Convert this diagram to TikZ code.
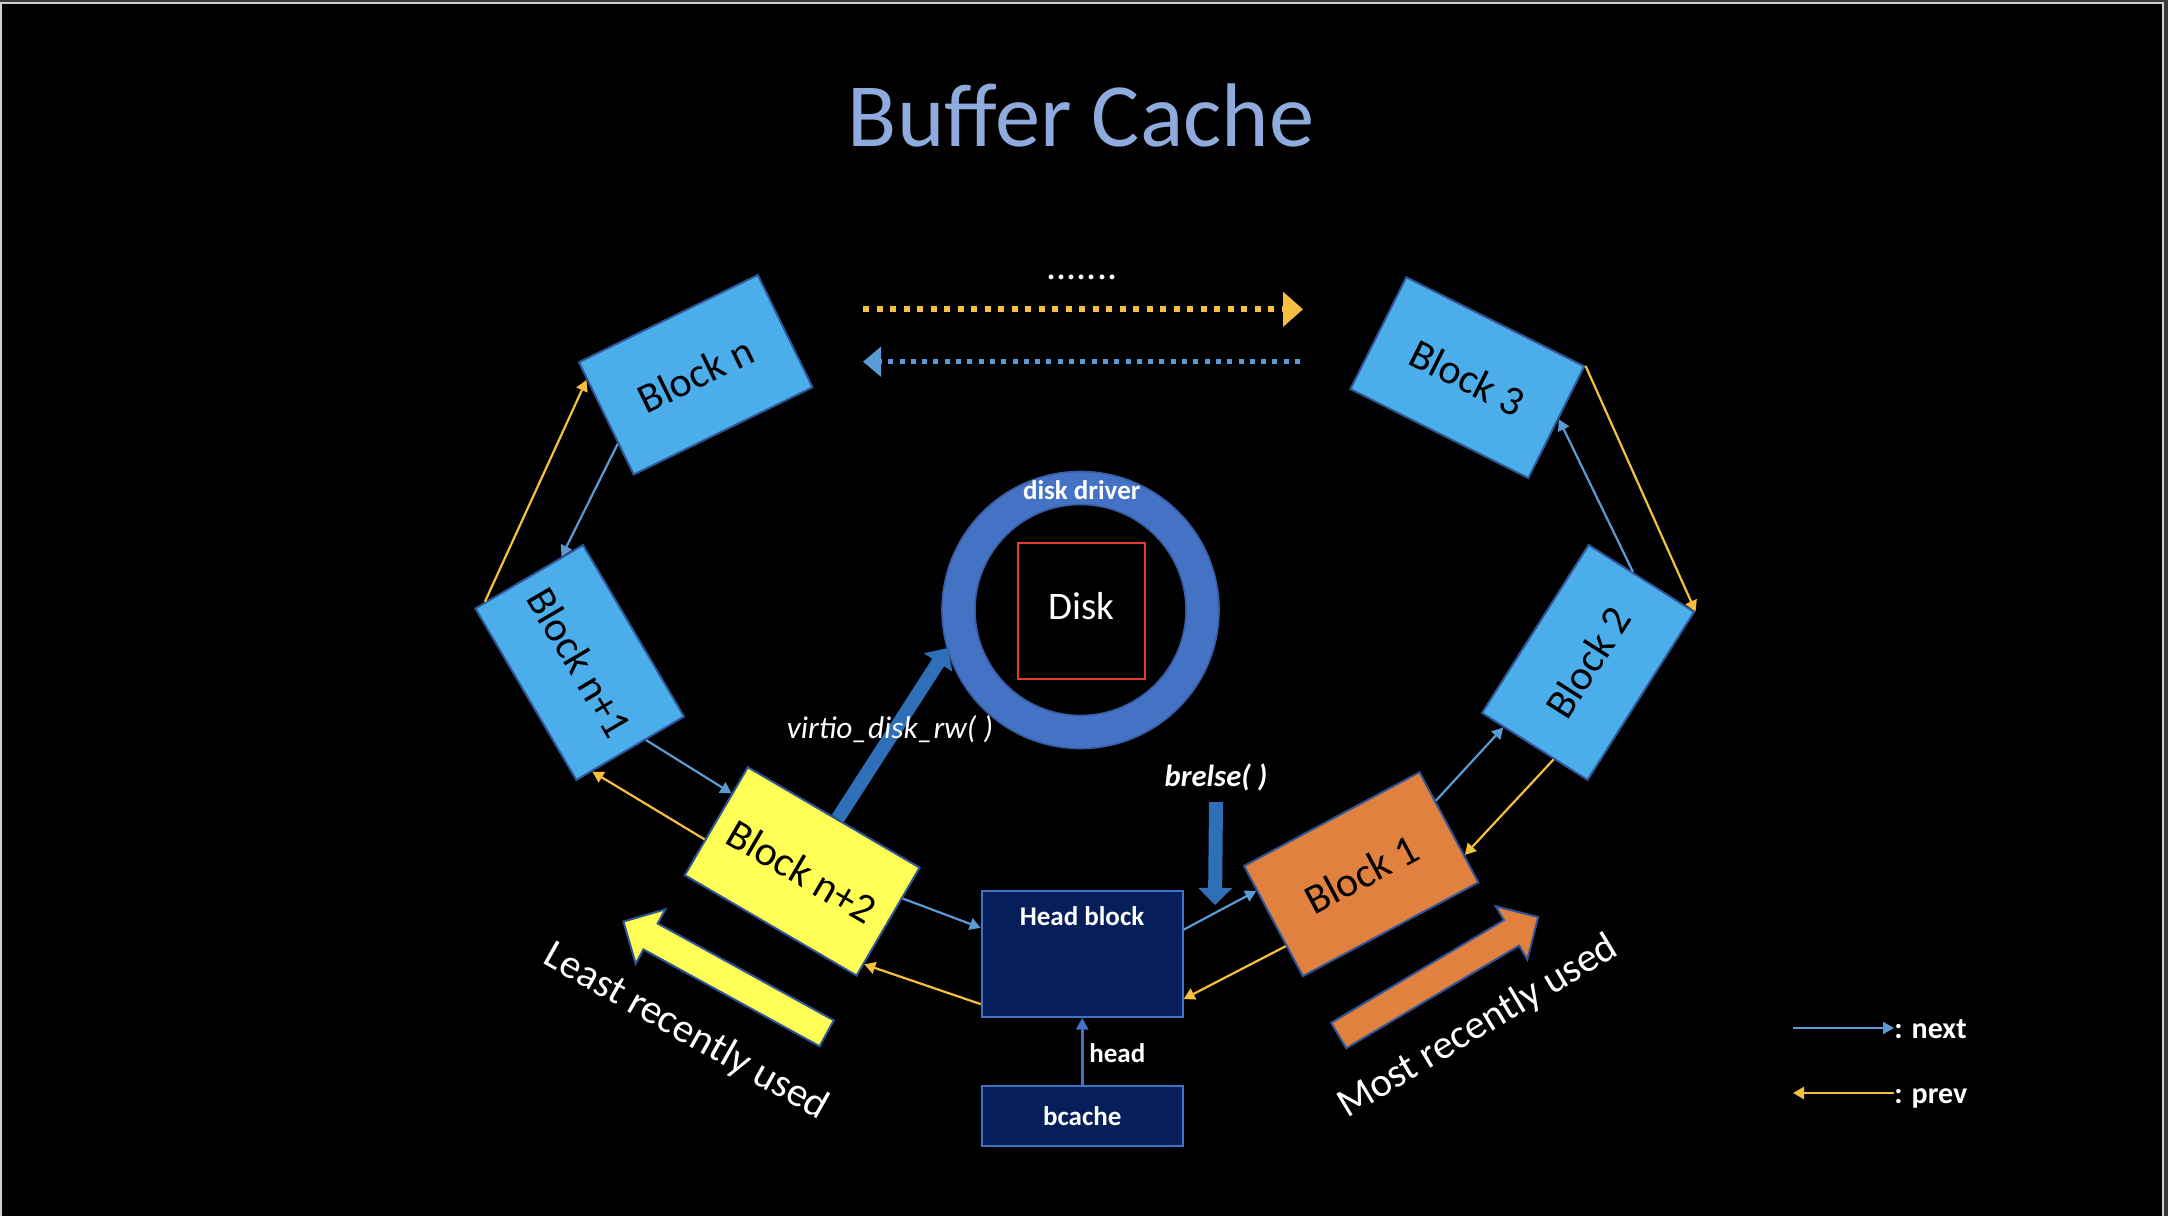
\documentclass[tikz,border=0pt]{standalone}
\usepackage{fontspec}
\setmainfont{Carlito}
\usetikzlibrary{arrows.meta,calc,shapes.geometric}

\definecolor{blkfill}{HTML}{4BAEEA}
\definecolor{blkedge}{HTML}{2F5597}
\definecolor{yel}{HTML}{FFFF55}
\definecolor{org}{HTML}{E0813F}
\definecolor{navy}{HTML}{061F5A}
\definecolor{navyedge}{HTML}{4472C4}
\definecolor{nextc}{HTML}{5B9BD5}
\definecolor{prevc}{HTML}{F6BF3F}
\definecolor{ringc}{HTML}{4472C4}
\definecolor{ringedge}{HTML}{3A5CA3}
\definecolor{callc}{HTML}{2E6FB8}
\definecolor{diskred}{HTML}{E53A2C}
\definecolor{titlec}{HTML}{8FAADC}
\definecolor{frameouter}{HTML}{3A3A3A}
\definecolor{frameinner}{HTML}{D0D0D0}

\tikzset{
  blk/.style={draw=blkedge, line width=1pt, minimum width=99.5pt, minimum height=62.5pt,
              inner sep=0pt, text=black, font=\fontsize{21}{25}\selectfont},
  nxt/.style={draw=nextc, line width=1.1pt, -{Triangle[length=5.5pt,width=6pt]}},
  prv/.style={draw=prevc, line width=1.1pt, -{Triangle[length=5.5pt,width=6pt]}},
  navybox/.style={draw=navyedge, fill=navy, line width=1pt, inner sep=0pt,
              minimum width=100.5pt, text=white, font=\fontsize{13.5}{16}\selectfont\bfseries},
  boldlbl/.style={text=white, inner sep=0pt, font=\fontsize{13.5}{16}\selectfont\bfseries},
  italbl/.style={text=white, inner sep=0pt, font=\fontsize{15.7}{18}\selectfont\itshape},
  callarrow/.style={draw=callc, line width=7pt, -{Triangle[length=8.5pt,width=16.5pt]}},
  headarr/.style={draw=navyedge, line width=1.5pt, -{Triangle[length=6pt,width=6pt]}},
  bigarrow/.style={draw=blkedge, line width=1pt},
  lrulbl/.style={text=white, inner sep=0pt, font=\fontsize{20.5}{24}\selectfont},
  legendlbl/.style={text=white, inner sep=0pt, text height=10pt, text depth=0pt,
              font=\fontsize{15}{18}\selectfont\bfseries},
}

\begin{document}
\begin{tikzpicture}[x=0.5pt,y=-0.5pt]
  % background and frame
  \fill[frameouter] (0,0) rectangle (2168,1216);
  \fill[frameinner] (0,2) rectangle (2164,1216);
  \fill[black] (2,4) rectangle (2162,1216);
  \useasboundingbox (0,0) rectangle (2168,1216);

  % title
  \node[text=titlec, inner sep=0pt, font=\fontsize{45.2}{52}\selectfont] (title) at (1081,115) {Buffer Cache};

  % disk driver ring and disk
  \node[circle, draw=ringc, line width=16.5pt, minimum size=122pt, inner sep=0pt] (ring) at (1080.5,610) {};
  \draw[ringedge, line width=0.8pt] (ring.center) circle[radius=138.5];
  \draw[ringedge, line width=0.8pt] (ring.center) circle[radius=105.5];
  \node[boldlbl] (driver) at (1081.7,490) {disk driver};
  \node[draw=diskred, line width=1pt, minimum width=63.5pt, minimum height=68pt, inner sep=0pt,
        text depth=5.5pt, text=white, font=\fontsize{19.5}{23}\selectfont] (disk) at (1081.7,611.3) {Disk};

  % blocks
  \node[blk, fill=blkfill, rotate=26]    (bn)  at (695.75,374.75) {Block n};
  \node[blk, fill=blkfill, rotate=-26.6] (b3)  at (1467.3,377.7) {Block 3};
  \node[blk, fill=blkfill, rotate=-59.5] (bn1) at (579.7,662.5) {Block n+1};
  \node[blk, fill=blkfill, rotate=57.6]  (b2)  at (1588.1,662.4) {Block 2};
  \node[blk, fill=yel, rotate=-30.3]     (bn2) at (802.2,871.4) {Block n+2};
  \node[blk, fill=org, rotate=28.1]      (b1)  at (1361.2,874.2) {Block 1};

  % head block and bcache
  \node[navybox, minimum height=63pt] (head) at (1082.2,953.7) {};
  \node[boldlbl] (headlbl) at (1082,916) {Head block};
  \node[navybox, minimum height=30pt] (bcache) at (1082.2,1115.8) {bcache};
  \draw[headarr] (bcache.north) -- (head.south);
  \node[boldlbl, anchor=west] (headtxt) at (1089,1053) {head};

  % next / prev links
  \draw[nxt] ($(bn.north west)!0.72!(bn.south west)$) -- ($(bn1.north west)!0.2!(bn1.south west)$);
  \draw[prv] ($(bn1.north west)!0.9!(bn1.south west)$) -- ($(bn.north west)!0.16!(bn.south west)$);
  \draw[nxt] ($(bn1.north east)!0.36!(bn1.south east)$) -- ($(bn2.north west)!0.25!(bn2.south west)$);
  \draw[prv] ($(bn2.north west)!0.67!(bn2.south west)$) -- ($(bn1.north east)!0.85!(bn1.south east)$);
  \draw[nxt] ($(bn2.north east)!0.285!(bn2.south east)$) -- ($(head.north west)!0.298!(head.south west)$);
  \draw[prv] ($(head.north west)!0.894!(head.south west)$) -- ($(bn2.north east)!0.885!(bn2.south east)$);
  \draw[nxt] ($(head.north east)!0.312!(head.south east)$) -- ($(b1.north west)!0.227!(b1.south west)$);
  \draw[prv] ($(b1.north west)!0.72!(b1.south west)$) -- ($(head.north east)!0.854!(head.south east)$);
  \draw[nxt] ($(b1.north east)!0.266!(b1.south east)$) -- ($(b2.north west)!0.21!(b2.south west)$);
  \draw[prv] ($(b2.north west)!0.68!(b2.south west)$) -- ($(b1.north east)!0.75!(b1.south east)$);
  \draw[nxt] ($(b2.north east)!0.416!(b2.south east)$) -- ($(b3.north east)!0.47!(b3.south east)$);
  \draw[prv] (b3.north east) -- (b2.south east);

  % dotted links across the top
  \node[text=white, inner sep=0pt, font=\fontsize{20}{24}\selectfont] (dots) at (1082,277) {.......};
  \coordinate (gdL) at (863,309.3);
  \coordinate (gdR) at (1303,309.3);
  \coordinate (bdL) at (863,361.7);
  \coordinate (bdR) at (1300,361.7);
  \draw[prevc, line width=3pt, dash pattern=on 3pt off 3.75pt, -{Triangle[length=10pt,width=17pt]}] (gdL) -- (gdR);
  \draw[nextc, line width=2.5pt, dash pattern=on 2.5pt off 3.15pt, -{Triangle[length=9pt,width=14.5pt]}] (bdR) -- (bdL);

  % virtio_disk_rw and brelse calls
  \draw[callarrow] ($(bn2.north west)!0.52!(bn2.north east)$) -- (ring.196);
  \node[italbl] (virtio) at (890,729) {virtio\_disk\_rw( )};
  \node[italbl, font=\fontsize{15.3}{18}\selectfont\bfseries\itshape] (brelse) at (1216,777) {brelse( )};
  \coordinate (brtip) at (1215,905);
  \draw[callarrow] ($(brelse.south)+(0,11)$) -- (brtip);

  % least / most recently used arrows
  \begin{scope}[shift={(826.7,1033.3)}, rotate=151.2]
    \draw[bigarrow, fill=yel] (0,-14.8) -- (201,-14.8) -- (201,-31) -- (232,0) -- (201,31) -- (201,14.8) -- (0,14.8) -- cycle;
  \end{scope}
  \begin{scope}[shift={(1338.7,1035.5)}, rotate=30.7]
    \draw[bigarrow, fill=org] (0,-14.8) -- (201,-14.8) -- (201,-31) -- (232,0) -- (201,31) -- (201,14.8) -- (0,14.8) -- cycle;
  \end{scope}
  \node[lrulbl, rotate=-29.5] (lru) at (686,1032) {Least recently used};
  \node[lrulbl, rotate=31] (mru) at (1478,1027) {Most recently used};

  % legend
  \node[legendlbl, anchor=west] (lnext) at (1894,1028) {: next};
  \node[legendlbl, anchor=west] (lprev) at (1894,1093) {: prev};
  \coordinate (lnA) at (1793,1028);
  \coordinate (lpB) at (1793,1093);
  \draw[nxt] (lnA) -- (lnext.west);
  \draw[prv] (lprev.west) -- (lpB);
\end{tikzpicture}
\end{document}
